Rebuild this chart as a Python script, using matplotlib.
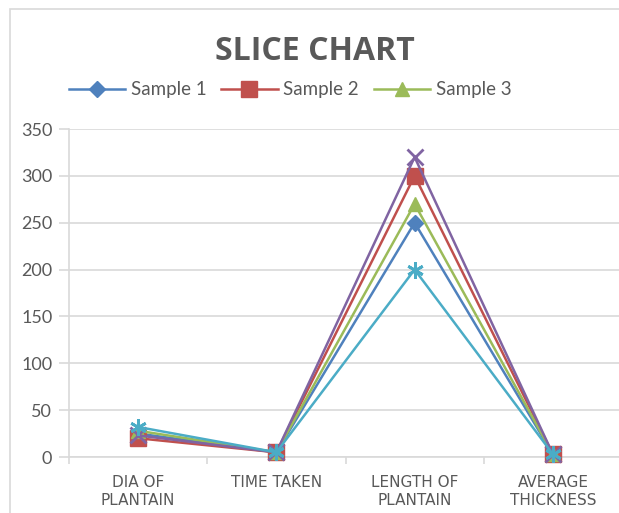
import matplotlib
matplotlib.use("Agg")
import matplotlib.pyplot as plt
from matplotlib.patches import Rectangle

categories = ["DIA OF\nPLANTAIN", "TIME TAKEN", "LENGTH OF\nPLANTAIN", "AVERAGE\nTHICKNESS"]
sample1 = [25, 5, 250, 3]
sample2 = [20, 5, 300, 3]
sample3 = [28, 5, 270, 3]
sample4 = [23, 5, 320, 3]
sample5 = [32, 5, 200, 3]
y_ticks = [0, 50, 100, 150, 200, 250, 300, 350]

series = [
    ("Sample 1", sample1, "#4F81BD", "D", 8),
    ("Sample 2", sample2, "#C0504D", "s", 11),
    ("Sample 3", sample3, "#9BBB59", "^", 10),
    ("Sample 4", sample4, "#8064A2", "x", 11),
    ("Sample 5", sample5, "#4BACC6", (6, 2, 0), 12),
]

W, H = 619, 513
fig = plt.figure(figsize=(W / 100, H / 100), dpi=100)
plt.rcParams["font.family"] = ["Lato", "DejaVu Sans"]
text_col = "#595959"
grid_col = "#D9D9D9"

# outer chart border
fig.patches.append(Rectangle((10 / W, -0.1), 1.2, (H - 9) / H + 0.1,
                             transform=fig.transFigure, fill=False,
                             edgecolor=grid_col, lw=1.2))

ax = fig.add_axes([69 / W, (H - 457) / H, (622 - 69) / W, (457 - 129) / H])
x = list(range(len(categories)))
handles = []
for name, vals, col, mk, ms in series:
    mew = 2 if mk in ("x", (6, 2, 0)) else 1
    ln, = ax.plot(x, vals, color=col, lw=1.8, marker=mk, markersize=ms,
                  markerfacecolor=col, markeredgecolor=col, markeredgewidth=mew,
                  label=name, clip_on=False, zorder=3)
    handles.append(ln)

ax.set_xlim(-0.5, len(categories) - 0.5)
ax.set_ylim(0, 350)
ax.set_yticks(y_ticks)
ax.set_xticks(x)
ax.set_xticklabels(categories, fontsize=11, color=text_col, linespacing=1.25,
                   family=["DejaVu Sans"])
ax.set_xticks([i - 0.5 for i in range(len(categories) + 1)], minor=True)
ax.tick_params(axis="x", which="major", length=0, pad=13)
ax.tick_params(axis="x", which="minor", length=5, color=grid_col, width=1.2)
ax.tick_params(axis="y", length=7, color=grid_col, width=1.2, labelsize=13,
               labelcolor=text_col, pad=5)
ax.grid(axis="y", color=grid_col, lw=1.2)
ax.set_axisbelow(True)
for s in ["top", "right"]:
    ax.spines[s].set_visible(False)
ax.spines["left"].set_color(grid_col)
ax.spines["bottom"].set_color(grid_col)
ax.spines["left"].set_linewidth(1.2)
ax.spines["bottom"].set_linewidth(1.2)

fig.text(315 / W, (H - 51) / H, "SLICE CHART", ha="center", va="center",
         fontsize=23, fontweight="bold", color=text_col, family=["Open Sans"])

fig.legend(handles=handles[:3], loc="center", bbox_to_anchor=(290 / W, (H - 90) / H),
           ncol=3, frameon=False, fontsize=13.5, labelcolor=text_col,
           handlelength=3.0, handletextpad=0.3, columnspacing=0.8)

fig.savefig("out.png", dpi=100)
